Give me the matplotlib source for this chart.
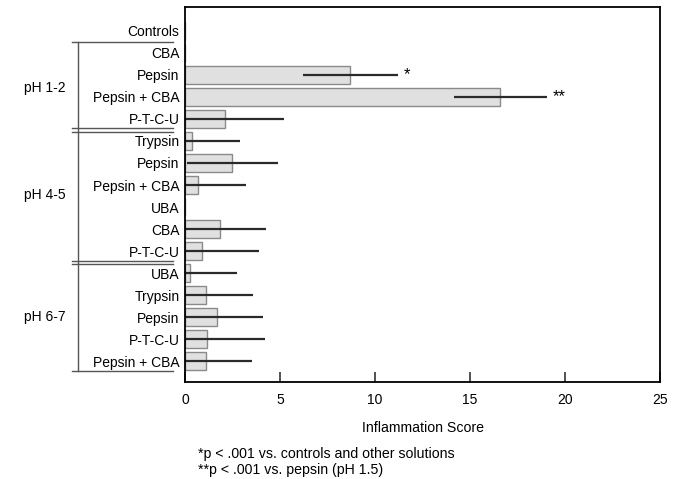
import matplotlib.pyplot as plt
from matplotlib.transforms import blended_transform_factory

plt.rcParams['font.family'] = ['Liberation Sans', 'DejaVu Sans']

labels = ["Controls", "CBA", "Pepsin", "Pepsin + CBA", "P-T-C-U",
          "Trypsin", "Pepsin", "Pepsin + CBA", "UBA", "CBA", "P-T-C-U",
          "UBA", "Trypsin", "Pepsin", "P-T-C-U", "Pepsin + CBA"]
scores = [0, 0, 8.7, 16.6, 2.1,
          0.37, 2.5, 0.7, 0, 1.85, 0.9,
          0.27, 1.1, 1.7, 1.15, 1.1]
errors = [0, 0, 2.5, 2.45, 3.1,
          2.55, 2.4, 2.5, 0, 2.4, 3.0,
          2.45, 2.5, 2.4, 3.05, 2.45]
groups = ["pH 1-2", "pH 4-5", "pH 6-7"]
marks = {2: "*", 3: "**"}

fig = plt.figure(figsize=(6.75, 4.79), dpi=100)
ax = fig.add_axes([0.274, 0.2025, 0.704, 0.783])

pos = list(range(len(labels)))
ax.barh(pos, scores, height=0.8, color='#e0e0e0', edgecolor='#8a8a8a', linewidth=1.0)
ax.errorbar(scores, pos, xerr=errors, fmt='none', ecolor='#2a2a2a', elinewidth=1.6, capsize=0)

for i, m in marks.items():
    ax.text(scores[i] + errors[i] + 0.3, i, m, va='center', ha='left', fontsize=12)

ax.set_xlim(0, 25)
ax.set_ylim(15.95, -1.09)
ax.set_xticks([0, 5, 10, 15, 20, 25])
ax.tick_params(axis='x', direction='in', length=7, width=1.2, labelsize=10, pad=8, color='#333333')
ax.set_yticks(pos)
ax.set_yticklabels(labels, fontsize=10)
ax.tick_params(axis='y', length=0, pad=4)
for s in ax.spines.values():
    s.set_linewidth(1.3)
ax.set_xlabel("Inflammation Score", fontsize=10.2, labelpad=10)

# group brackets
tr = blended_transform_factory(ax.transAxes, ax.transData)
lc = '#555555'
for y in [0.5, 4.43, 4.57, 10.43, 10.57, 15.45]:
    ax.plot([-0.238, -0.025], [y, y], color=lc, lw=1.0, transform=tr, clip_on=False)
ax.plot([-0.225, -0.225], [0.5, 15.45], color=lc, lw=1.0, transform=tr, clip_on=False)
for g, y in zip(groups, [2.6, 7.45, 13.0]):
    ax.text(-0.339, y, g, transform=tr, ha='left', va='center', fontsize=10)

fig.text(0.293, 0.043, "*p < .001 vs. controls and other solutions", fontsize=10.2)
fig.text(0.293, 0.011, "**p < .001 vs. pepsin (pH 1.5)", fontsize=10.2)

fig.savefig('out.png', dpi=100)
